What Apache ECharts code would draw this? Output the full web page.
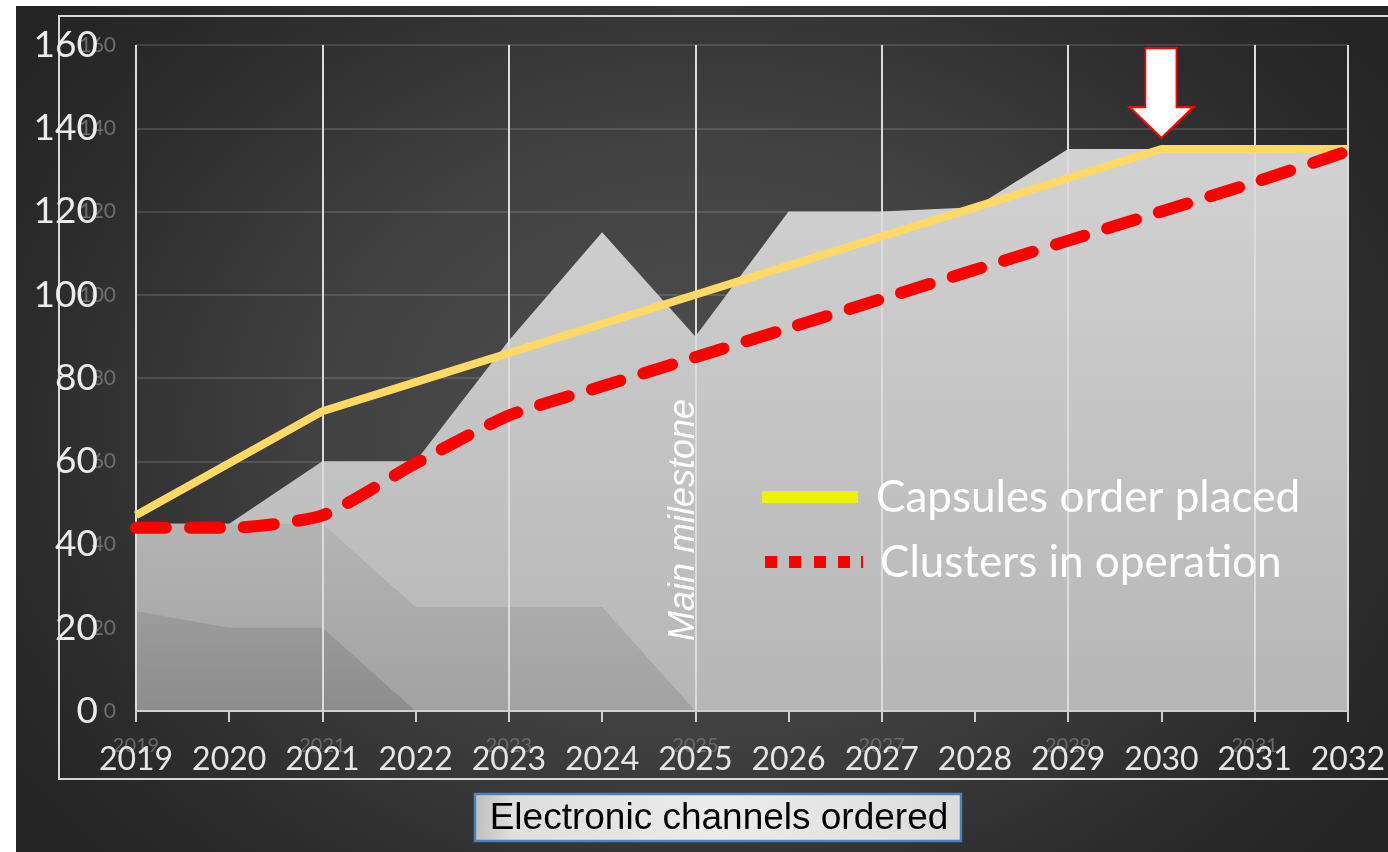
<!DOCTYPE html>
<html><head><meta charset="utf-8">
<script src="https://cdn.jsdelivr.net/npm/echarts@6/dist/echarts.min.js"></script>
<style>
html,body{margin:0;padding:0;background:#fff;width:1388px;height:852px;overflow:hidden;}
#bg{position:absolute;left:16px;top:6px;width:1372px;height:846px;
 background:radial-gradient(ellipse 60% 75% at 50% 50%, #4f4f4f 0%, #424242 45%, #2d2d2d 80%, #252525 100%);}
#frame{position:absolute;left:58px;top:15px;width:1340px;height:761px;border:2px solid #d6d6d6;border-right:none;}
#chart{position:absolute;left:0;top:0;width:1388px;height:852px;}
</style></head>
<body>
<div id="bg"></div><div id="frame"></div><div id="chart"></div>
<script>
// ---- data ----
const years = ['2019','2020','2021','2022','2023','2024','2025','2026','2027','2028','2029','2030','2031','2032'];
const capsules = [47, 59.5, 72, 79, 86, 93, 100, 107, 114, 121, 128, 135, 135, 135];
const clusters = [44, 44, 47, 59.5, 71, 78, 85, 92, 99, 106, 113, 120, 127, 134.5];
const channelsTotal = [45, 45, 60, 60, 89, 115, 90, 120, 120, 121, 135, 135, 135, 135];
const channelsMid = [45, 45, 45, 25, 25, 25, 0, '-', '-', '-', '-', '-', '-', '-'];
const channelsLow = [24, 20, 20, 0, '-', '-', '-', '-', '-', '-', '-', '-', '-', '-'];
const seriesNames = ['Capsules order placed', 'Clusters in operation'];
const titleText = 'Electronic channels ordered';
const milestoneText = 'Main milestone';
const arrowPoint = ['2030', 135];
const yMin = 0, yMax = 160, yStep = 20;

const chart = echarts.init(document.getElementById('chart'));
const G = echarts.graphic;
function vgrad(a, b) { return new G.LinearGradient(0, 0, 0, 1, [{offset:0,color:a},{offset:1,color:b}]); }

const graphics = [
  {type: 'rect', z: 10, shape: {x: 762, y: 491, width: 96, height: 12}, style: {fill: '#eef20a'}}
];
[[765,12], [789,12], [814,12], [838,12], [861,2]].forEach(p => graphics.push(
  {type: 'rect', z: 10, shape: {x: p[0], y: 556, width: p[1], height: 12}, style: {fill: '#ff0000'}}));
graphics.push(
  {type: 'text', z: 10, x: 876, y: 498, style: {text: seriesNames[0], fill: '#ffffff', font: '44px Lato', textAlign: 'left', textVerticalAlign: 'middle', verticalAlign: 'middle'}},
  {type: 'text', z: 10, x: 880, y: 563, style: {text: seriesNames[1], fill: '#ffffff', font: '44px Lato', textAlign: 'left', textVerticalAlign: 'middle', verticalAlign: 'middle'}},
  {type: 'text', z: 10, x: 684, y: 520, rotation: Math.PI / 2,
   style: {text: milestoneText, fill: '#ffffff', font: 'italic 36px "Liberation Sans"', textAlign: 'center', align: 'center', textVerticalAlign: 'middle', verticalAlign: 'middle'}},
  {type: 'rect', z: 10, shape: {x: 475, y: 794, width: 486, height: 47},
   style: {fill: new G.LinearGradient(0, 0, 1, 0.3, [
     {offset: 0, color: '#bdbdbd'}, {offset: 0.08, color: '#dedede'}, {offset: 0.5, color: '#ececec'}, {offset: 1, color: '#dcdcdc'}]),
     stroke: '#4f81bd', lineWidth: 2.5}},
  {type: 'text', z: 11, x: 719, y: 819,
   style: {text: titleText, fill: '#000000', font: '37px "Liberation Sans"', textAlign: 'center', align: 'center', textVerticalAlign: 'middle', verticalAlign: 'middle'}}
);

const option = {
  animation: false,
  backgroundColor: 'transparent',
  grid: {left: 136, right: 39, top: 45, bottom: 141},
  xAxis: [{
    type: 'category', data: years, boundaryGap: false, position: 'bottom', offset: 6, z: 5,
    axisLine: {show: true, lineStyle: {color: '#cfcfcf', width: 2}},
    axisTick: {show: false},
    axisLabel: {interval: 0, fontSize: 32, color: '#e6e6e6', fontFamily: 'Lato', margin: 27},
    splitLine: {show: true, interval: 1, lineStyle: {color: '#dcdcdc', width: 2}}
  }, {
    type: 'category', data: years, boundaryGap: false, position: 'bottom', offset: 0, z: 4,
    axisLine: {show: true, lineStyle: {color: '#cfcfcf', width: 2}},
    axisTick: {show: true, interval: 0, length: 11, lineStyle: {color: '#cfcfcf', width: 2}},
    axisLabel: {interval: 1, fontSize: 20, color: '#6a6a6a', fontFamily: 'Lato', margin: 25},
    splitLine: {show: false}
  }],
  yAxis: [{
    type: 'value', min: yMin, max: yMax, interval: yStep, z: 2,
    axisLine: {show: false}, axisTick: {show: false},
    axisLabel: {fontSize: 37, color: '#ececec', fontFamily: 'Lato', margin: 38},
    splitLine: {show: true, lineStyle: {color: 'rgba(255,255,255,0.13)', width: 2}}
  }, {
    type: 'value', min: yMin, max: yMax, interval: yStep, position: 'left', z: 1,
    axisLine: {show: false}, axisTick: {show: false},
    axisLabel: {fontSize: 21, color: '#6e6e6e', fontFamily: 'Lato', margin: 20},
    splitLine: {show: false}
  }],
  series: [
    {type: 'line', name: 'total', data: channelsTotal, symbol: 'none', z: 3, silent: true,
     lineStyle: {width: 0}, areaStyle: {color: vgrad('#d2d2d2', '#b6b6b6'), opacity: 1}},
    {type: 'line', name: 'mid', data: channelsMid, symbol: 'none', z: 3, silent: true,
     lineStyle: {width: 0}, areaStyle: {color: vgrad('#b4b4b4', '#a2a2a2'), opacity: 1}},
    {type: 'line', name: 'low', data: channelsLow, symbol: 'none', z: 3, silent: true,
     lineStyle: {width: 0}, areaStyle: {color: vgrad('#9c9c9c', '#8c8c8c'), opacity: 1}},
    {type: 'line', name: seriesNames[0], data: capsules, symbol: 'none', z: 6,
     lineStyle: {color: '#ffd966', width: 8},
     markPoint: {
       symbol: 'path://M16,0 L47,0 L47,59 L64,59 L32,90 L0,59 L16,59 Z',
       symbolSize: [64, 90], symbolKeepAspect: false, symbolOffset: [0, -56],
       itemStyle: {color: '#ffffff', borderColor: '#ff0000', borderWidth: 2},
       label: {show: false},
       data: [{coord: arrowPoint}]
     }},
    {type: 'line', name: seriesNames[1], data: clusters, symbol: 'none', z: 6,
     smooth: 0.2,
     lineStyle: {color: '#ff0000', width: 12, type: [30, 24], cap: 'round', join: 'round'}}
  ],
  graphic: graphics
};
chart.setOption(option);
</script>
</body></html>
